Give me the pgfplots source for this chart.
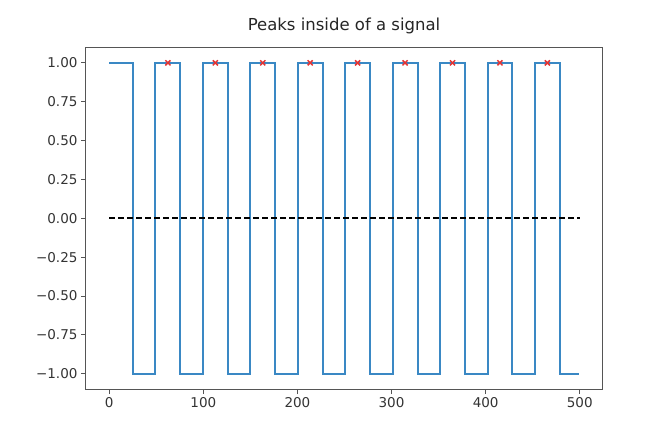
\documentclass[border=0pt]{standalone}
\usepackage{fontspec}
\setmainfont{DejaVu Sans}
\usepackage{pgfplots}
\pgfplotsset{compat=1.18}
\definecolor{sigblue}{RGB}{58,136,196}
\definecolor{peakred}{RGB}{228,52,52}
\definecolor{spine}{RGB}{85,85,85}
\begin{document}
\begin{tikzpicture}
\useasboundingbox (0,0) rectangle (645pt,439pt);
\begin{axis}[
  at={(85.7pt,49.7pt)}, anchor=south west,
  scale only axis, width=516.6pt, height=342pt,
  xmin=-24.95, xmax=523.95, ymin=-1.1, ymax=1.1,
  axis line style={spine, line width=1.2pt},
  tick align=outside, tick pos=left,
  major tick length=4.7pt,
  every tick/.style={spine, line width=1pt},
  xtick={0,100,200,300,400,500},
  ytick={-1,-0.75,-0.5,-0.25,0,0.25,0.5,0.75,1},
  yticklabels={−1.00,−0.75,−0.50,−0.25,0.00,0.25,0.50,0.75,1.00},
  /pgf/number format/assume math mode=true,
  tick label style={font=\fontsize{13.5}{15}\selectfont, text=black!80},
  title={Peaks inside of a signal},
  title style={at={(0.5,1)}, anchor=center, yshift=15.6pt, font=\fontsize{16.5}{19}\selectfont, text=black!85},
]
\addplot[sigblue, line width=2pt, line join=miter] coordinates {
(0,1) (25.2,1) (25.2,-1) (49.2,-1) (49.2,1) (75.6,1) (75.6,-1) (99.6,-1)
(99.6,1) (126,1) (126,-1) (150,-1) (150,1) (176.4,1) (176.4,-1) (200.4,-1)
(200.4,1) (226.8,1) (226.8,-1) (250.8,-1) (250.8,1) (277.2,1) (277.2,-1) (301.2,-1)
(301.2,1) (327.6,1) (327.6,-1) (351.6,-1) (351.6,1) (378,1) (378,-1) (402,-1)
(402,1) (428.4,1) (428.4,-1) (452.4,-1) (452.4,1) (478.8,1) (478.8,-1) (499,-1)
};
\addplot[black, line width=2pt, dash pattern=on 6pt off 3pt] coordinates {(0,0) (500,0)};
\addplot[only marks, mark=x, mark size=3.6pt, peakred, mark options={line width=1.5pt}] coordinates {
(62.4,1) (112.8,1) (163.2,1) (213.6,1) (264,1) (314.4,1) (364.8,1) (415.2,1) (465.6,1)
};
\end{axis}
\end{tikzpicture}
\end{document}
